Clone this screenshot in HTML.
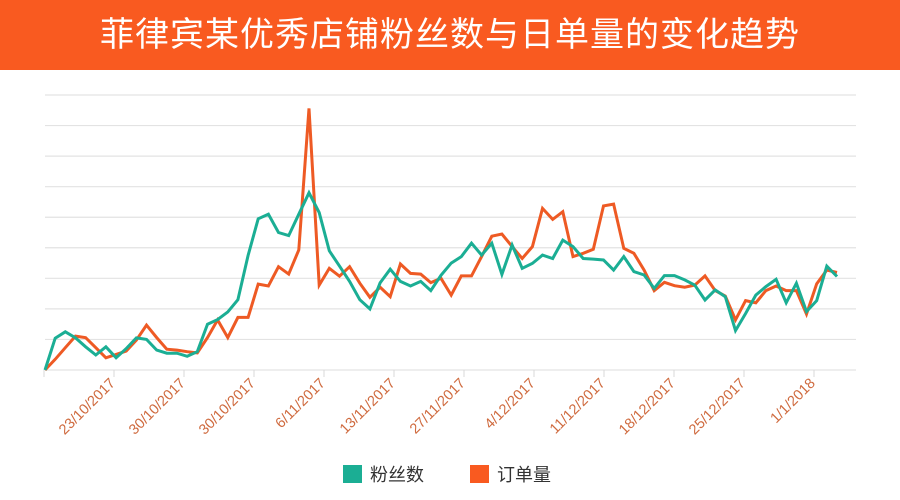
<!DOCTYPE html>
<html><head><meta charset="utf-8"><style>
body{margin:0;width:900px;height:500px;background:#fff;overflow:hidden;font-family:"Liberation Sans","Noto Sans CJK SC",sans-serif;}
#title{position:absolute;left:0;top:0;width:900px;height:70px;background:#F95A20;color:#fff;font-size:34px;line-height:70px;text-align:center;letter-spacing:1px;}
svg{position:absolute;left:0;top:0;}
</style></head><body>
<div id="title">菲律宾某优秀店铺粉丝数与日单量的变化趋势</div>
<svg id="chart" width="900" height="500"></svg>
<script>
const tickLabels=["23/10/2017","30/10/2017","30/10/2017","6/11/2017","13/11/2017","27/11/2017","4/12/2017","11/12/2017","18/12/2017","25/12/2017","1/1/2018"];
const fansValues=[0,1.04,1.25,1.05,0.76,0.49,0.76,0.4,0.7,1.05,1.0,0.65,0.55,0.55,0.45,0.6,1.5,1.65,1.9,2.3,3.75,4.95,5.1,4.5,4.4,5.1,5.8,5.15,3.9,3.4,2.9,2.3,2.0,2.85,3.3,2.9,2.75,2.9,2.6,3.1,3.5,
3.71,4.15,3.76,4.15,3.13,4.09,3.33,3.49,3.76,3.65,4.25,4.04,3.65,3.63,3.6,3.27,3.71,3.22,3.11,2.67,3.09,3.09,2.95,2.78,2.29,2.62,2.4,1.29,1.85,2.45,2.73,2.97,2.2,2.84,1.91,2.27,3.4,3.06];
const orderValues=[0,0.35,0.73,1.11,1.06,0.73,0.4,0.51,0.62,0.98,1.47,1.06,0.68,0.65,0.6,0.56,1.06,1.64,1.06,1.72,1.72,2.81,2.75,3.38,3.14,3.93,8.56,2.78,3.33,3.07,3.38,2.84,2.38,2.71,2.4,3.47,3.16,3.14,2.86,3.0,2.45,
3.08,3.08,3.71,4.38,4.45,4.04,3.65,4.04,5.29,4.93,5.18,3.71,3.82,3.95,5.37,5.43,3.98,3.82,3.27,2.6,2.87,2.76,2.71,2.78,3.08,2.6,2.42,1.64,2.27,2.2,2.6,2.75,2.6,2.6,1.83,2.82,3.27,3.19];
const gridMax=9;
const NS="http://www.w3.org/2000/svg";
const svg=document.getElementById('chart');
const X0=45,X1=856,XEND=837,Y0=370,Y1=95;
const dayPx=(XEND-X0)/(orderValues.length-1);
function yScale(v){return Y0-(v/gridMax)*(Y0-Y1);}
function xScale(i){return X0+i*dayPx;}
function mk(t,a){const e=document.createElementNS(NS,t);for(const k in a)e.setAttribute(k,a[k]);svg.appendChild(e);return e;}
for(let g=0;g<=gridMax;g++){
  const y=yScale(g);
  const l=mk('line',{x1:X0,x2:X1,y1:y,y2:y,stroke:'#e3e3e3','stroke-width':1.2});
  
  
}
const tickStep=70;
for(let t=0;t<=tickLabels.length;t++){
  const x=44+t*tickStep;
  const tk=mk('line',{x1:x,x2:x,y1:370,y2:377,stroke:'#d8d8d8','stroke-width':1});
  
  
}
tickLabels.forEach((s,t)=>{
  const x=44+(t+1)*tickStep+2, y=384;
  const tx=mk('text',{x:x,y:y,fill:'#CF6A3E','font-size':14.5,'text-anchor':'end',transform:`rotate(-45 ${x} ${y})`});
  tx.textContent=s;
  
  
});
function line(vals,color,name){
  const pts=vals.map((v,i)=>xScale(i).toFixed(1)+','+yScale(v).toFixed(1)).join(' ');
  const p=mk('polyline',{points:pts,fill:'none',stroke:color,'stroke-width':3,'stroke-linejoin':'miter'});
  
  
}
line(orderValues,'#EE5A24','orders-line');
line(fansValues,'#1BAE94','fans-line');
const legend=[["粉丝数","#1BAE94",343],["订单量","#F95A20",470]];
legend.forEach(([s,c,x])=>{
  const r=mk('rect',{x:x,y:465,width:19,height:18,fill:c});
  
  
  const t=mk('text',{x:x+27,y:481,fill:'#333','font-size':18});
  t.textContent=s;
  
  
});
</script>
</body></html>
